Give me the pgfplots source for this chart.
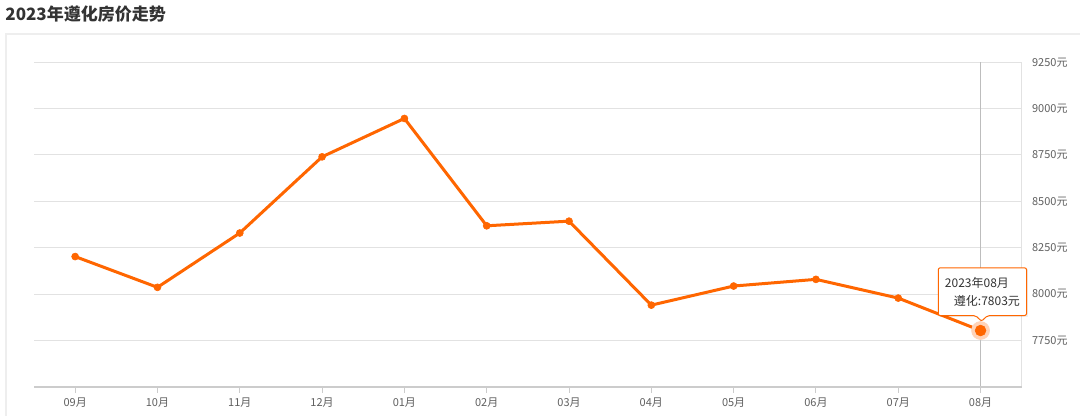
\documentclass[border=0pt]{standalone}
\usepackage{fontspec}
\setmainfont{Noto Sans CJK SC}
\usepackage{pgfplots}
\pgfplotsset{compat=1.18}
\definecolor{lineor}{HTML}{FF6600}
\definecolor{haloc}{HTML}{FFD3B8}
\definecolor{panel}{HTML}{EEEEEE}
\definecolor{gridc}{HTML}{E2E2E2}
\definecolor{axisc}{HTML}{CCCCCC}
\definecolor{tickc}{HTML}{606060}
\definecolor{titlec}{HTML}{333333}
\definecolor{crossc}{HTML}{BDBDBD}
\begin{document}
\begin{tikzpicture}[x=0.5pt,y=0.5pt]
\path[use as bounding box, fill=white] (0,0) rectangle (1080,416);
\draw[color=panel, line width=1pt] (6,-2) -- (6,382) -- (1082,382);
\node[anchor=west, font=\bfseries\fontsize{8.5}{10}\selectfont, text=titlec, inner sep=0pt] at (5,402) {2023年遵化房价走势};
\begin{axis}[
  at={(17pt,14.65pt)}, anchor=south west,
  width=493.85pt, height=162.2pt, scale only axis,
  xmin=-0.5, xmax=11.5, ymin=7500, ymax=9250,
  axis line style={draw=none},
  xtick={0,...,11},
  xticklabels={09月,10月,11月,12月,01月,02月,03月,04月,05月,06月,07月,08月},
  ytick={7750,8000,8250,8500,8750,9000,9250},
  yticklabels={7750元,8000元,8250元,8500元,8750元,9000元,9250元},
  xtick pos=left, ytick pos=right,
  tick align=outside,
  major tick length=3pt,
  xtick style={draw=axisc, line width=0.5pt},
  ytick style={draw=none},
  ymajorgrids, grid style={color=gridc, line width=0.5pt},
  ticklabel style={font=\fontsize{5.5}{6}\selectfont, text=tickc},
  xticklabel style={anchor=north, inner sep=0pt, yshift=-2.5pt},
  yticklabel style={anchor=west, inner sep=0pt, xshift=2pt},
  clip=false,
]
\draw[color=gridc, line width=0.5pt] (rel axis cs:1,0) -- (rel axis cs:1,1);
\draw[color=crossc, line width=0.5pt] (axis cs:11,7500) -- (axis cs:11,9250);
\draw[color=axisc, line width=1pt] (rel axis cs:0,0) -- (rel axis cs:1,0);
\addplot[color=lineor, line width=1.5pt, mark=*, mark size=1.75pt, mark options={solid, fill=lineor, draw=lineor, line width=0.3pt}] coordinates {
(0,8202) (1,8036) (2,8329) (3,8740) (4,8947) (5,8368) (6,8393) (7,7940) (8,8043) (9,8079) (10,7978) (11,7803)
};
\addplot[only marks, color=haloc, mark=*, mark size=4.5pt, mark options={solid, fill=haloc, draw=haloc, line width=0.3pt}] coordinates {(11,7803)};
\addplot[only marks, color=lineor, mark=*, mark size=2.7pt, mark options={solid, fill=lineor, draw=lineor, line width=0.3pt}] coordinates {(11,7803)};
\coordinate (P) at (axis cs:11,7803);
\end{axis}
\begin{scope}[shift={(P)}, x=0.5pt, y=-0.5pt]
\fill[black, opacity=0.06] (-41.3,-61.7) rectangle (47.5,-13.5);
\draw[draw=lineor, fill=white, line width=0.5pt, rounded corners=1pt]
  (-42.3,-62.7) -- (46,-62.7) -- (46,-15) -- (7,-15) -- (1,-9.3) -- (-5,-15) -- (-42.3,-15) -- cycle;
\node[anchor=west, inner sep=0pt, font=\fontsize{6}{7}\selectfont, text=titlec] at (-36,-47.7) {2023年08月};
\node[anchor=west, inner sep=0pt, font=\fontsize{6}{7}\selectfont, text=titlec] at (-27,-30) {遵化:7803元};
\end{scope}
\end{tikzpicture}
\end{document}
